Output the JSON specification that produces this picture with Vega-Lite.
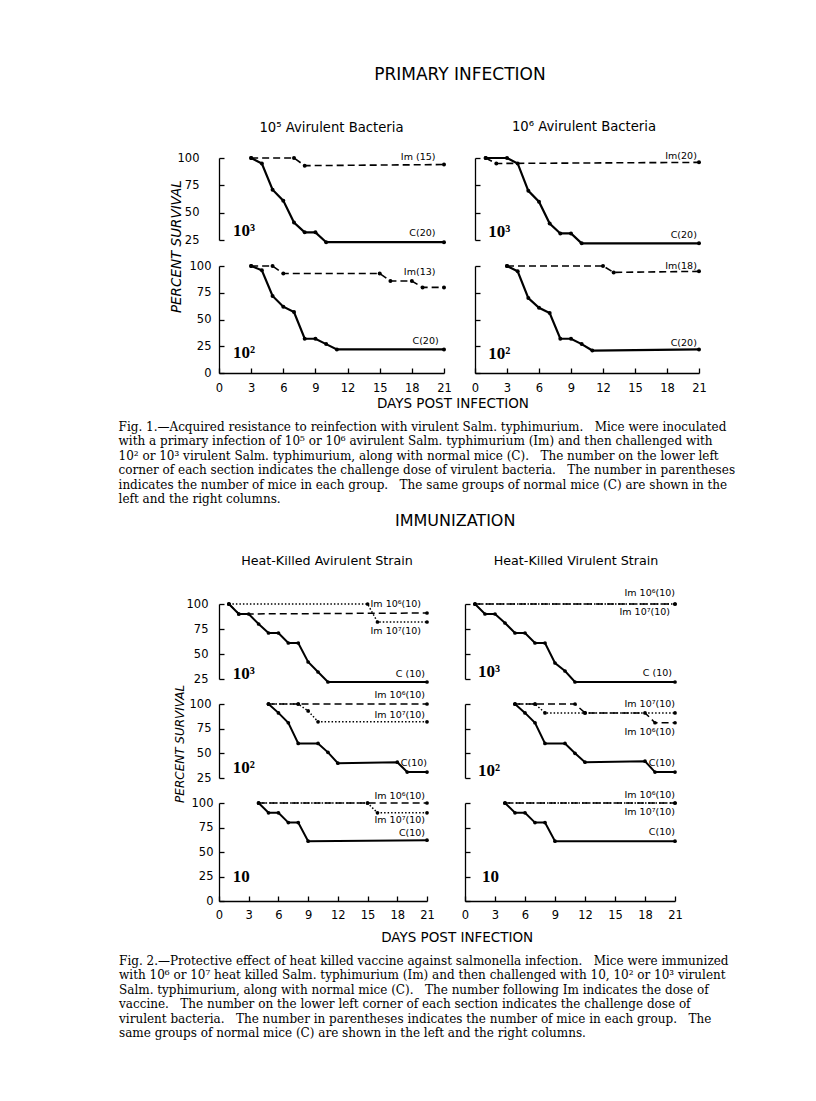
{
"$schema":"https://vega.github.io/schema/vega-lite/v6.json",
"background":"white",
"padding":{"left":118,"top":65,"right":5,"bottom":5},
"config":{
 "view":{"stroke":null},
 "axis":{"domainColor":"black","tickColor":"black","labelColor":"black","labelFont":"DejaVu Sans","labelFontSize":11.5,"grid":false,"domainWidth":1.3,"tickWidth":1.3,"labelOverlap":false,"labelFlush":false,"labelBound":false},
 "title":{"color":"black","font":"DejaVu Sans","fontWeight":"normal"}
},
"datasets":{
 "surv":[
  {"panel":"1L3","series":"Im","day":3,"pct":100},{"panel":"1L3","series":"Im","day":7,"pct":100},{"panel":"1L3","series":"Im","day":8,"pct":93},{"panel":"1L3","series":"Im","day":21,"pct":94},
  {"panel":"1L3","series":"C","day":3,"pct":100},{"panel":"1L3","series":"C","day":4,"pct":95},{"panel":"1L3","series":"C","day":5,"pct":71},{"panel":"1L3","series":"C","day":6,"pct":61},{"panel":"1L3","series":"C","day":7,"pct":41},{"panel":"1L3","series":"C","day":8,"pct":32},{"panel":"1L3","series":"C","day":9,"pct":32},{"panel":"1L3","series":"C","day":10,"pct":23},{"panel":"1L3","series":"C","day":21,"pct":23},
  {"panel":"1L2","series":"Im","day":3,"pct":100},{"panel":"1L2","series":"Im","day":5,"pct":100},{"panel":"1L2","series":"Im","day":6,"pct":93},{"panel":"1L2","series":"Im","day":15,"pct":93},{"panel":"1L2","series":"Im","day":16,"pct":86},{"panel":"1L2","series":"Im","day":18,"pct":86},{"panel":"1L2","series":"Im","day":19,"pct":80},{"panel":"1L2","series":"Im","day":21,"pct":80},
  {"panel":"1L2","series":"C","day":3,"pct":100},{"panel":"1L2","series":"C","day":4,"pct":96},{"panel":"1L2","series":"C","day":5,"pct":72},{"panel":"1L2","series":"C","day":6,"pct":62},{"panel":"1L2","series":"C","day":7,"pct":57},{"panel":"1L2","series":"C","day":8,"pct":32},{"panel":"1L2","series":"C","day":9,"pct":32},{"panel":"1L2","series":"C","day":10,"pct":27},{"panel":"1L2","series":"C","day":11,"pct":22},{"panel":"1L2","series":"C","day":21,"pct":22},
  {"panel":"1R3","series":"Im","day":1,"pct":100},{"panel":"1R3","series":"Im","day":2,"pct":95},{"panel":"1R3","series":"Im","day":21,"pct":96},
  {"panel":"1R3","series":"C","day":1,"pct":100},{"panel":"1R3","series":"C","day":3,"pct":100},{"panel":"1R3","series":"C","day":4,"pct":95},{"panel":"1R3","series":"C","day":5,"pct":70},{"panel":"1R3","series":"C","day":6,"pct":60},{"panel":"1R3","series":"C","day":7,"pct":40},{"panel":"1R3","series":"C","day":8,"pct":31},{"panel":"1R3","series":"C","day":9,"pct":31},{"panel":"1R3","series":"C","day":10,"pct":22},{"panel":"1R3","series":"C","day":21,"pct":22},
  {"panel":"1R2","series":"Im","day":3,"pct":100},{"panel":"1R2","series":"Im","day":12,"pct":100},{"panel":"1R2","series":"Im","day":13,"pct":94},{"panel":"1R2","series":"Im","day":21,"pct":95},
  {"panel":"1R2","series":"C","day":3,"pct":100},{"panel":"1R2","series":"C","day":4,"pct":95},{"panel":"1R2","series":"C","day":5,"pct":70},{"panel":"1R2","series":"C","day":6,"pct":61},{"panel":"1R2","series":"C","day":7,"pct":56},{"panel":"1R2","series":"C","day":8,"pct":32},{"panel":"1R2","series":"C","day":9,"pct":32},{"panel":"1R2","series":"C","day":10,"pct":27},{"panel":"1R2","series":"C","day":11,"pct":21},{"panel":"1R2","series":"C","day":21,"pct":22},
  {"panel":"2L3","series":"C","day":1,"pct":100},{"panel":"2L3","series":"C","day":2,"pct":90},{"panel":"2L3","series":"C","day":3,"pct":90},{"panel":"2L3","series":"C","day":4,"pct":80},{"panel":"2L3","series":"C","day":5,"pct":71},{"panel":"2L3","series":"C","day":6,"pct":71},{"panel":"2L3","series":"C","day":7,"pct":61},{"panel":"2L3","series":"C","day":8,"pct":61},{"panel":"2L3","series":"C","day":9,"pct":42},{"panel":"2L3","series":"C","day":10,"pct":32},{"panel":"2L3","series":"C","day":11,"pct":22},{"panel":"2L3","series":"C","day":21,"pct":22},
  {"panel":"2L3","series":"Im6","day":1,"pct":100},{"panel":"2L3","series":"Im6","day":2,"pct":90},{"panel":"2L3","series":"Im6","day":21,"pct":91},
  {"panel":"2L3","series":"Im7","day":1,"pct":100},{"panel":"2L3","series":"Im7","day":15,"pct":100},{"panel":"2L3","series":"Im7","day":16,"pct":82},{"panel":"2L3","series":"Im7","day":21,"pct":82},
  {"panel":"2L2","series":"C","day":5,"pct":100},{"panel":"2L2","series":"C","day":6,"pct":91},{"panel":"2L2","series":"C","day":7,"pct":81},{"panel":"2L2","series":"C","day":8,"pct":60},{"panel":"2L2","series":"C","day":10,"pct":60},{"panel":"2L2","series":"C","day":11,"pct":51},{"panel":"2L2","series":"C","day":12,"pct":40},{"panel":"2L2","series":"C","day":18,"pct":41},{"panel":"2L2","series":"C","day":19,"pct":31},{"panel":"2L2","series":"C","day":21,"pct":31},
  {"panel":"2L2","series":"Im6","day":5,"pct":100},{"panel":"2L2","series":"Im6","day":8,"pct":100},{"panel":"2L2","series":"Im6","day":21,"pct":100},
  {"panel":"2L2","series":"Im7","day":5,"pct":100},{"panel":"2L2","series":"Im7","day":8,"pct":100},{"panel":"2L2","series":"Im7","day":9,"pct":93},{"panel":"2L2","series":"Im7","day":10,"pct":82},{"panel":"2L2","series":"Im7","day":21,"pct":82},
  {"panel":"2L1","series":"C","day":4,"pct":100},{"panel":"2L1","series":"C","day":5,"pct":90},{"panel":"2L1","series":"C","day":6,"pct":90},{"panel":"2L1","series":"C","day":7,"pct":80},{"panel":"2L1","series":"C","day":8,"pct":80},{"panel":"2L1","series":"C","day":9,"pct":61},{"panel":"2L1","series":"C","day":21,"pct":62},
  {"panel":"2L1","series":"Im6","day":4,"pct":100},{"panel":"2L1","series":"Im6","day":15,"pct":100},{"panel":"2L1","series":"Im6","day":21,"pct":100},
  {"panel":"2L1","series":"Im7","day":4,"pct":100},{"panel":"2L1","series":"Im7","day":15,"pct":100},{"panel":"2L1","series":"Im7","day":16,"pct":90},{"panel":"2L1","series":"Im7","day":21,"pct":90},
  {"panel":"2R3","series":"C","day":1,"pct":100},{"panel":"2R3","series":"C","day":2,"pct":90},{"panel":"2R3","series":"C","day":3,"pct":90},{"panel":"2R3","series":"C","day":4,"pct":81},{"panel":"2R3","series":"C","day":5,"pct":71},{"panel":"2R3","series":"C","day":6,"pct":71},{"panel":"2R3","series":"C","day":7,"pct":61},{"panel":"2R3","series":"C","day":8,"pct":61},{"panel":"2R3","series":"C","day":9,"pct":41},{"panel":"2R3","series":"C","day":10,"pct":33},{"panel":"2R3","series":"C","day":11,"pct":22},{"panel":"2R3","series":"C","day":21,"pct":22},
  {"panel":"2R3","series":"Im6","day":1,"pct":100},{"panel":"2R3","series":"Im6","day":21,"pct":100},
  {"panel":"2R3","series":"Im7","day":1,"pct":100},{"panel":"2R3","series":"Im7","day":21,"pct":100},
  {"panel":"2R2","series":"C","day":5,"pct":100},{"panel":"2R2","series":"C","day":6,"pct":91},{"panel":"2R2","series":"C","day":7,"pct":81},{"panel":"2R2","series":"C","day":8,"pct":60},{"panel":"2R2","series":"C","day":10,"pct":60},{"panel":"2R2","series":"C","day":11,"pct":50},{"panel":"2R2","series":"C","day":12,"pct":41},{"panel":"2R2","series":"C","day":18,"pct":42},{"panel":"2R2","series":"C","day":19,"pct":31},{"panel":"2R2","series":"C","day":21,"pct":31},
  {"panel":"2R2","series":"Im6","day":5,"pct":100},{"panel":"2R2","series":"Im6","day":7,"pct":100},{"panel":"2R2","series":"Im6","day":11,"pct":100},{"panel":"2R2","series":"Im6","day":12,"pct":91},{"panel":"2R2","series":"Im6","day":18,"pct":91},{"panel":"2R2","series":"Im6","day":19,"pct":81},{"panel":"2R2","series":"Im6","day":21,"pct":81},
  {"panel":"2R2","series":"Im7","day":5,"pct":100},{"panel":"2R2","series":"Im7","day":7,"pct":100},{"panel":"2R2","series":"Im7","day":8,"pct":91},{"panel":"2R2","series":"Im7","day":12,"pct":91},{"panel":"2R2","series":"Im7","day":21,"pct":91},
  {"panel":"2R1","series":"C","day":4,"pct":100},{"panel":"2R1","series":"C","day":5,"pct":90},{"panel":"2R1","series":"C","day":6,"pct":90},{"panel":"2R1","series":"C","day":7,"pct":80},{"panel":"2R1","series":"C","day":8,"pct":80},{"panel":"2R1","series":"C","day":9,"pct":61},{"panel":"2R1","series":"C","day":21,"pct":61},
  {"panel":"2R1","series":"Im6","day":4,"pct":100},{"panel":"2R1","series":"Im6","day":21,"pct":100},
  {"panel":"2R1","series":"Im7","day":4,"pct":100},{"panel":"2R1","series":"Im7","day":21,"pct":100}
 ],
 "labels":[
  {"panel":"1L3","label":"Im (15)","day":20.2,"pct":98},{"panel":"1L3","label":"C(20)","day":20.2,"pct":28.6},
  {"panel":"1L2","label":"Im(13)","day":20.2,"pct":92},{"panel":"1L2","label":"C(20)","day":20.5,"pct":27},
  {"panel":"1R3","label":"Im(20)","day":20.8,"pct":99},{"panel":"1R3","label":"C(20)","day":20.8,"pct":27},
  {"panel":"1R2","label":"Im(18)","day":20.8,"pct":97.5},{"panel":"1R2","label":"C(20)","day":20.8,"pct":25},
  {"panel":"2L3","label":"Im 10⁶(10)","day":20.4,"pct":96.6},{"panel":"2L3","label":"Im 10⁷(10)","day":20.4,"pct":70},{"panel":"2L3","label":"C (10)","day":20.8,"pct":27},
  {"panel":"2L2","label":"Im 10⁶(10)","day":20.8,"pct":106.5},{"panel":"2L2","label":"Im 10⁷(10)","day":20.8,"pct":86},{"panel":"2L2","label":"C(10)","day":21,"pct":37},
  {"panel":"2L1","label":"Im 10⁶(10)","day":20.8,"pct":104.5},{"panel":"2L1","label":"Im 10⁷(10)","day":20.8,"pct":80},{"panel":"2L1","label":"C(10)","day":20.8,"pct":66},
  {"panel":"2R3","label":"Im 10⁶(10)","day":21,"pct":108},{"panel":"2R3","label":"Im 10⁷(10)","day":20.5,"pct":89},{"panel":"2R3","label":"C (10)","day":20.7,"pct":28},
  {"panel":"2R2","label":"Im 10⁷(10)","day":21,"pct":96.7},{"panel":"2R2","label":"Im 10⁶(10)","day":21,"pct":69},{"panel":"2R2","label":"C(10)","day":21,"pct":36.7},
  {"panel":"2R1","label":"Im 10⁶(10)","day":21,"pct":105},{"panel":"2R1","label":"Im 10⁷(10)","day":21,"pct":88},{"panel":"2R1","label":"C(10)","day":21,"pct":67}
 ],
 "doses":[
  {"panel":"1L3","dose":"10³","day":1.3,"pct":28.6},{"panel":"1L2","dose":"10²","day":1.3,"pct":14},
  {"panel":"1R3","dose":"10³","day":1.25,"pct":27.8},{"panel":"1R2","dose":"10²","day":1.25,"pct":13},
  {"panel":"2L3","dose":"10³","day":1.4,"pct":25},{"panel":"2L2","dose":"10²","day":1.4,"pct":29.6},{"panel":"2L1","dose":"10","day":1.4,"pct":19.4},
  {"panel":"2R3","dose":"10³","day":1.3,"pct":27.4},{"panel":"2R2","dose":"10²","day":1.3,"pct":27.4},{"panel":"2R1","dose":"10","day":1.7,"pct":19}
 ]
},
"columns":1,
"spacing":8,
"align":"none",
"concat":[
{
 "title":{"text":["Fig. 1.—Acquired resistance to reinfection with virulent Salm. typhimurium.\u00a0\u00a0 Mice were inoculated","with a primary infection of 10⁵ or 10⁶ avirulent Salm. typhimurium (Im) and then challenged with","10² or 10³ virulent Salm. typhimurium, along with normal mice (C).\u00a0\u00a0 The number on the lower left","corner of each section indicates the challenge dose of virulent bacteria.\u00a0\u00a0 The number in parentheses","indicates the number of mice in each group.\u00a0\u00a0 The same groups of normal mice (C) are shown in the","left and the right columns."],"orient":"bottom","anchor":"start","font":"DejaVu Serif","fontSize":12,"lineHeight":14.4,"offset":12,"dx":-51},
 "vconcat":[{
  "title":{"text":"DAYS POST INFECTION","orient":"bottom","anchor":"middle","fontSize":13.5,"offset":3,"dx":15},
  "vconcat":[{
   "title":{"text":"PRIMARY INFECTION","anchor":"middle","fontSize":17,"offset":36,"dx":22},
   "vconcat":[{
    "title":{"text":"PERCENT SURVIVAL","orient":"left","anchor":"middle","fontSize":13.5,"fontStyle":"italic","offset":-6,"dx":10},
    "columns":2,"bounds":"flush","spacing":{"row":26,"column":31},
    "concat":[
     {"width":225,"height":82,
      "title":{"text":"10⁵ Avirulent Bacteria","anchor":"middle","frame":"group","fontSize":13.2,"offset":7,"baseline":"alphabetic"},
      "layer":[
       {"data":{"name":"surv"},"transform":[{"filter":"datum.panel=='1L3' && datum.series=='C'"}],"mark":{"type":"line","color":"black","strokeWidth":2.2},
        "encoding":{"x":{"field":"day","type":"quantitative","scale":{"domain":[0,21],"nice":false,"zero":false},"axis":null},
                    "y":{"field":"pct","type":"quantitative","scale":{"domain":[25,100],"nice":false,"zero":false},"axis":{"values":[25,50,75,100],"tickCount":20,"tickSize":-5,"labelPadding":25,"title":null}}}},
       {"data":{"name":"surv"},"transform":[{"filter":"datum.panel=='1L3' && datum.series!='C'"}],"mark":{"type":"line","color":"black","strokeWidth":1.6},
        "encoding":{"x":{"field":"day","type":"quantitative"},"y":{"field":"pct","type":"quantitative"},"strokeDash":{"field":"series","type":"nominal","scale":{"domain":["Im","Im6","Im7"],"range":[[7,4],[7,4],[1.5,2]]},"legend":null}}},
       {"data":{"name":"surv"},"transform":[{"filter":"datum.panel=='1L3'"}],"mark":{"type":"circle","size":16,"color":"black","opacity":1},
        "encoding":{"x":{"field":"day","type":"quantitative"},"y":{"field":"pct","type":"quantitative"}}},
       {"data":{"name":"labels"},"transform":[{"filter":"datum.panel=='1L3'"}],"mark":{"type":"text","align":"right","baseline":"alphabetic","font":"DejaVu Sans","fontSize":9.5,"color":"black"},
        "encoding":{"x":{"field":"day","type":"quantitative"},"y":{"field":"pct","type":"quantitative"},"text":{"field":"label"}}},
       {"data":{"name":"doses"},"transform":[{"filter":"datum.panel=='1L3'"}],"mark":{"type":"text","align":"left","baseline":"alphabetic","font":"Liberation Serif","fontWeight":"bold","fontSize":17,"color":"black"},
        "encoding":{"x":{"field":"day","type":"quantitative"},"y":{"field":"pct","type":"quantitative"},"text":{"field":"dose"}}}
      ]},
     {"width":224,"height":82,
      "title":{"text":"10⁶ Avirulent Bacteria","anchor":"middle","frame":"group","fontSize":13.2,"offset":7,"baseline":"alphabetic","dx":-3},
      "layer":[
       {"data":{"name":"surv"},"transform":[{"filter":"datum.panel=='1R3' && datum.series=='C'"}],"mark":{"type":"line","color":"black","strokeWidth":2.2},
        "encoding":{"x":{"field":"day","type":"quantitative","scale":{"domain":[0,21],"nice":false,"zero":false},"axis":null},
                    "y":{"field":"pct","type":"quantitative","scale":{"domain":[25,100],"nice":false,"zero":false},"axis":{"values":[25,50,75,100],"tickCount":20,"tickSize":-5,"labels":false,"title":null}}}},
       {"data":{"name":"surv"},"transform":[{"filter":"datum.panel=='1R3' && datum.series!='C'"}],"mark":{"type":"line","color":"black","strokeWidth":1.6},
        "encoding":{"x":{"field":"day","type":"quantitative"},"y":{"field":"pct","type":"quantitative"},"strokeDash":{"field":"series","type":"nominal","scale":{"domain":["Im","Im6","Im7"],"range":[[7,4],[7,4],[1.5,2]]},"legend":null}}},
       {"data":{"name":"surv"},"transform":[{"filter":"datum.panel=='1R3'"}],"mark":{"type":"circle","size":16,"color":"black","opacity":1},
        "encoding":{"x":{"field":"day","type":"quantitative"},"y":{"field":"pct","type":"quantitative"}}},
       {"data":{"name":"labels"},"transform":[{"filter":"datum.panel=='1R3'"}],"mark":{"type":"text","align":"right","baseline":"alphabetic","font":"DejaVu Sans","fontSize":9.5,"color":"black"},
        "encoding":{"x":{"field":"day","type":"quantitative"},"y":{"field":"pct","type":"quantitative"},"text":{"field":"label"}}},
       {"data":{"name":"doses"},"transform":[{"filter":"datum.panel=='1R3'"}],"mark":{"type":"text","align":"left","baseline":"alphabetic","font":"Liberation Serif","fontWeight":"bold","fontSize":17,"color":"black"},
        "encoding":{"x":{"field":"day","type":"quantitative"},"y":{"field":"pct","type":"quantitative"},"text":{"field":"dose"}}}
      ]},
     {"width":225,"height":107,
      "layer":[
       {"data":{"name":"surv"},"transform":[{"filter":"datum.panel=='1L2' && datum.series=='C'"}],"mark":{"type":"line","color":"black","strokeWidth":2.2},
        "encoding":{"x":{"field":"day","type":"quantitative","scale":{"domain":[0,21],"nice":false,"zero":false},"axis":{"values":[0,3,6,9,12,15,18,21],"tickCount":20,"tickSize":-5,"labelPadding":14,"title":null}},
                    "y":{"field":"pct","type":"quantitative","scale":{"domain":[0,100],"nice":false,"zero":false},"axis":{"values":[0,25,50,75,100],"tickCount":20,"tickSize":-5,"labelPadding":13,"title":null}}}},
       {"data":{"name":"surv"},"transform":[{"filter":"datum.panel=='1L2' && datum.series!='C'"}],"mark":{"type":"line","color":"black","strokeWidth":1.6},
        "encoding":{"x":{"field":"day","type":"quantitative"},"y":{"field":"pct","type":"quantitative"},"strokeDash":{"field":"series","type":"nominal","scale":{"domain":["Im","Im6","Im7"],"range":[[7,4],[7,4],[1.5,2]]},"legend":null}}},
       {"data":{"name":"surv"},"transform":[{"filter":"datum.panel=='1L2'"}],"mark":{"type":"circle","size":16,"color":"black","opacity":1},
        "encoding":{"x":{"field":"day","type":"quantitative"},"y":{"field":"pct","type":"quantitative"}}},
       {"data":{"name":"labels"},"transform":[{"filter":"datum.panel=='1L2'"}],"mark":{"type":"text","align":"right","baseline":"alphabetic","font":"DejaVu Sans","fontSize":9.5,"color":"black"},
        "encoding":{"x":{"field":"day","type":"quantitative"},"y":{"field":"pct","type":"quantitative"},"text":{"field":"label"}}},
       {"data":{"name":"doses"},"transform":[{"filter":"datum.panel=='1L2'"}],"mark":{"type":"text","align":"left","baseline":"alphabetic","font":"Liberation Serif","fontWeight":"bold","fontSize":17,"color":"black"},
        "encoding":{"x":{"field":"day","type":"quantitative"},"y":{"field":"pct","type":"quantitative"},"text":{"field":"dose"}}}
      ]},
     {"width":224,"height":107,
      "layer":[
       {"data":{"name":"surv"},"transform":[{"filter":"datum.panel=='1R2' && datum.series=='C'"}],"mark":{"type":"line","color":"black","strokeWidth":2.2},
        "encoding":{"x":{"field":"day","type":"quantitative","scale":{"domain":[0,21],"nice":false,"zero":false},"axis":{"values":[0,3,6,9,12,15,18,21],"tickCount":20,"tickSize":-5,"labelPadding":14,"title":null}},
                    "y":{"field":"pct","type":"quantitative","scale":{"domain":[0,100],"nice":false,"zero":false},"axis":{"values":[0,25,50,75,100],"tickCount":20,"tickSize":-5,"labels":false,"title":null}}}},
       {"data":{"name":"surv"},"transform":[{"filter":"datum.panel=='1R2' && datum.series!='C'"}],"mark":{"type":"line","color":"black","strokeWidth":1.6},
        "encoding":{"x":{"field":"day","type":"quantitative"},"y":{"field":"pct","type":"quantitative"},"strokeDash":{"field":"series","type":"nominal","scale":{"domain":["Im","Im6","Im7"],"range":[[7,4],[7,4],[1.5,2]]},"legend":null}}},
       {"data":{"name":"surv"},"transform":[{"filter":"datum.panel=='1R2'"}],"mark":{"type":"circle","size":16,"color":"black","opacity":1},
        "encoding":{"x":{"field":"day","type":"quantitative"},"y":{"field":"pct","type":"quantitative"}}},
       {"data":{"name":"labels"},"transform":[{"filter":"datum.panel=='1R2'"}],"mark":{"type":"text","align":"right","baseline":"alphabetic","font":"DejaVu Sans","fontSize":9.5,"color":"black"},
        "encoding":{"x":{"field":"day","type":"quantitative"},"y":{"field":"pct","type":"quantitative"},"text":{"field":"label"}}},
       {"data":{"name":"doses"},"transform":[{"filter":"datum.panel=='1R2'"}],"mark":{"type":"text","align":"left","baseline":"alphabetic","font":"Liberation Serif","fontWeight":"bold","fontSize":17,"color":"black"},
        "encoding":{"x":{"field":"day","type":"quantitative"},"y":{"field":"pct","type":"quantitative"},"text":{"field":"dose"}}}
      ]}
    ]
   }]
  }]
 }]
},
{
 "title":{"text":["Fig. 2.—Protective effect of heat killed vaccine against salmonella infection.\u00a0\u00a0 Mice were immunized","with 10⁶ or 10⁷ heat killed Salm. typhimurium (Im) and then challenged with 10, 10² or 10³ virulent","Salm. typhimurium, along with normal mice (C).\u00a0\u00a0 The number following Im indicates the dose of","vaccine.\u00a0\u00a0 The number on the lower left corner of each section indicates the challenge dose of","virulent bacteria.\u00a0\u00a0 The number in parentheses indicates the number of mice in each group.\u00a0\u00a0 The","same groups of normal mice (C) are shown in the left and the right columns."],"orient":"bottom","anchor":"start","font":"DejaVu Serif","fontSize":12,"lineHeight":14.4,"offset":12,"dx":-55},
 "vconcat":[{
  "title":{"text":"DAYS POST INFECTION","orient":"bottom","anchor":"middle","fontSize":13.5,"offset":10,"dx":29},
  "vconcat":[{
   "title":{"text":"IMMUNIZATION","anchor":"middle","fontSize":16,"offset":26,"dx":27},
   "vconcat":[{
    "title":{"text":"PERCENT SURVIVAL","orient":"left","anchor":"middle","fontSize":12,"fontStyle":"italic","offset":-1,"dx":-6},
    "columns":2,"bounds":"flush","spacing":{"row":25,"column":38},
    "concat":[
     {"width":208,"height":75,
      "title":{"text":"Heat-Killed Avirulent Strain","anchor":"middle","frame":"group","fontSize":12.7,"offset":20,"baseline":"alphabetic","dx":4},
      "layer":[
       {"data":{"name":"surv"},"transform":[{"filter":"datum.panel=='2L3' && datum.series=='C'"}],"mark":{"type":"line","color":"black","strokeWidth":2},
        "encoding":{"x":{"field":"day","type":"quantitative","scale":{"domain":[0,21],"nice":false,"zero":false},"axis":null},
                    "y":{"field":"pct","type":"quantitative","scale":{"domain":[25,100],"nice":false,"zero":false},"axis":{"values":[25,50,75,100],"tickCount":20,"tickSize":-5,"labelPadding":16,"title":null}}}},
       {"data":{"name":"surv"},"transform":[{"filter":"datum.panel=='2L3' && datum.series!='C'"}],"mark":{"type":"line","color":"black","strokeWidth":1.5},
        "encoding":{"x":{"field":"day","type":"quantitative"},"y":{"field":"pct","type":"quantitative"},"strokeDash":{"field":"series","type":"nominal","scale":{"domain":["Im","Im6","Im7"],"range":[[7,4],[7,4],[1.5,2]]},"legend":null}}},
       {"data":{"name":"surv"},"transform":[{"filter":"datum.panel=='2L3'"}],"mark":{"type":"circle","size":14,"color":"black","opacity":1},
        "encoding":{"x":{"field":"day","type":"quantitative"},"y":{"field":"pct","type":"quantitative"}}},
       {"data":{"name":"labels"},"transform":[{"filter":"datum.panel=='2L3'"}],"mark":{"type":"text","align":"right","baseline":"alphabetic","font":"DejaVu Sans","fontSize":9.5,"color":"black"},
        "encoding":{"x":{"field":"day","type":"quantitative"},"y":{"field":"pct","type":"quantitative"},"text":{"field":"label"}}},
       {"data":{"name":"doses"},"transform":[{"filter":"datum.panel=='2L3'"}],"mark":{"type":"text","align":"left","baseline":"alphabetic","font":"Liberation Serif","fontWeight":"bold","fontSize":17,"color":"black"},
        "encoding":{"x":{"field":"day","type":"quantitative"},"y":{"field":"pct","type":"quantitative"},"text":{"field":"dose"}}}
      ]},
     {"width":210,"height":75,
      "title":{"text":"Heat-Killed Virulent Strain","anchor":"middle","frame":"group","fontSize":12.7,"offset":10,"baseline":"alphabetic","dx":6},
      "layer":[
       {"data":{"name":"surv"},"transform":[{"filter":"datum.panel=='2R3' && datum.series=='C'"}],"mark":{"type":"line","color":"black","strokeWidth":2},
        "encoding":{"x":{"field":"day","type":"quantitative","scale":{"domain":[0,21],"nice":false,"zero":false},"axis":null},
                    "y":{"field":"pct","type":"quantitative","scale":{"domain":[25,100],"nice":false,"zero":false},"axis":{"values":[25,50,75,100],"tickCount":20,"tickSize":-5,"labels":false,"title":null}}}},
       {"data":{"name":"surv"},"transform":[{"filter":"datum.panel=='2R3' && datum.series!='C'"}],"mark":{"type":"line","color":"black","strokeWidth":1.5},
        "encoding":{"x":{"field":"day","type":"quantitative"},"y":{"field":"pct","type":"quantitative"},"strokeDash":{"field":"series","type":"nominal","scale":{"domain":["Im","Im6","Im7"],"range":[[7,4],[7,4],[1.5,2]]},"legend":null}}},
       {"data":{"name":"surv"},"transform":[{"filter":"datum.panel=='2R3'"}],"mark":{"type":"circle","size":14,"color":"black","opacity":1},
        "encoding":{"x":{"field":"day","type":"quantitative"},"y":{"field":"pct","type":"quantitative"}}},
       {"data":{"name":"labels"},"transform":[{"filter":"datum.panel=='2R3'"}],"mark":{"type":"text","align":"right","baseline":"alphabetic","font":"DejaVu Sans","fontSize":9.5,"color":"black"},
        "encoding":{"x":{"field":"day","type":"quantitative"},"y":{"field":"pct","type":"quantitative"},"text":{"field":"label"}}},
       {"data":{"name":"doses"},"transform":[{"filter":"datum.panel=='2R3'"}],"mark":{"type":"text","align":"left","baseline":"alphabetic","font":"Liberation Serif","fontWeight":"bold","fontSize":17,"color":"black"},
        "encoding":{"x":{"field":"day","type":"quantitative"},"y":{"field":"pct","type":"quantitative"},"text":{"field":"dose"}}}
      ]},
     {"width":208,"height":74,
      "layer":[
       {"data":{"name":"surv"},"transform":[{"filter":"datum.panel=='2L2' && datum.series=='C'"}],"mark":{"type":"line","color":"black","strokeWidth":2},
        "encoding":{"x":{"field":"day","type":"quantitative","scale":{"domain":[0,21],"nice":false,"zero":false},"axis":null},
                    "y":{"field":"pct","type":"quantitative","scale":{"domain":[25,100],"nice":false,"zero":false},"axis":{"values":[25,50,75,100],"tickCount":20,"tickSize":-5,"labelPadding":13,"title":null}}}},
       {"data":{"name":"surv"},"transform":[{"filter":"datum.panel=='2L2' && datum.series!='C'"}],"mark":{"type":"line","color":"black","strokeWidth":1.5},
        "encoding":{"x":{"field":"day","type":"quantitative"},"y":{"field":"pct","type":"quantitative"},"strokeDash":{"field":"series","type":"nominal","scale":{"domain":["Im","Im6","Im7"],"range":[[7,4],[7,4],[1.5,2]]},"legend":null}}},
       {"data":{"name":"surv"},"transform":[{"filter":"datum.panel=='2L2'"}],"mark":{"type":"circle","size":14,"color":"black","opacity":1},
        "encoding":{"x":{"field":"day","type":"quantitative"},"y":{"field":"pct","type":"quantitative"}}},
       {"data":{"name":"labels"},"transform":[{"filter":"datum.panel=='2L2'"}],"mark":{"type":"text","align":"right","baseline":"alphabetic","font":"DejaVu Sans","fontSize":9.5,"color":"black"},
        "encoding":{"x":{"field":"day","type":"quantitative"},"y":{"field":"pct","type":"quantitative"},"text":{"field":"label"}}},
       {"data":{"name":"doses"},"transform":[{"filter":"datum.panel=='2L2'"}],"mark":{"type":"text","align":"left","baseline":"alphabetic","font":"Liberation Serif","fontWeight":"bold","fontSize":17,"color":"black"},
        "encoding":{"x":{"field":"day","type":"quantitative"},"y":{"field":"pct","type":"quantitative"},"text":{"field":"dose"}}}
      ]},
     {"width":210,"height":74,
      "layer":[
       {"data":{"name":"surv"},"transform":[{"filter":"datum.panel=='2R2' && datum.series=='C'"}],"mark":{"type":"line","color":"black","strokeWidth":2},
        "encoding":{"x":{"field":"day","type":"quantitative","scale":{"domain":[0,21],"nice":false,"zero":false},"axis":null},
                    "y":{"field":"pct","type":"quantitative","scale":{"domain":[25,100],"nice":false,"zero":false},"axis":{"values":[25,50,75,100],"tickCount":20,"tickSize":-5,"labels":false,"title":null}}}},
       {"data":{"name":"surv"},"transform":[{"filter":"datum.panel=='2R2' && datum.series!='C'"}],"mark":{"type":"line","color":"black","strokeWidth":1.5},
        "encoding":{"x":{"field":"day","type":"quantitative"},"y":{"field":"pct","type":"quantitative"},"strokeDash":{"field":"series","type":"nominal","scale":{"domain":["Im","Im6","Im7"],"range":[[7,4],[7,4],[1.5,2]]},"legend":null}}},
       {"data":{"name":"surv"},"transform":[{"filter":"datum.panel=='2R2'"}],"mark":{"type":"circle","size":14,"color":"black","opacity":1},
        "encoding":{"x":{"field":"day","type":"quantitative"},"y":{"field":"pct","type":"quantitative"}}},
       {"data":{"name":"labels"},"transform":[{"filter":"datum.panel=='2R2'"}],"mark":{"type":"text","align":"right","baseline":"alphabetic","font":"DejaVu Sans","fontSize":9.5,"color":"black"},
        "encoding":{"x":{"field":"day","type":"quantitative"},"y":{"field":"pct","type":"quantitative"},"text":{"field":"label"}}},
       {"data":{"name":"doses"},"transform":[{"filter":"datum.panel=='2R2'"}],"mark":{"type":"text","align":"left","baseline":"alphabetic","font":"Liberation Serif","fontWeight":"bold","fontSize":17,"color":"black"},
        "encoding":{"x":{"field":"day","type":"quantitative"},"y":{"field":"pct","type":"quantitative"},"text":{"field":"dose"}}}
      ]},
     {"width":208,"height":98,
      "layer":[
       {"data":{"name":"surv"},"transform":[{"filter":"datum.panel=='2L1' && datum.series=='C'"}],"mark":{"type":"line","color":"black","strokeWidth":2},
        "encoding":{"x":{"field":"day","type":"quantitative","scale":{"domain":[0,21],"nice":false,"zero":false},"axis":{"values":[0,3,6,9,12,15,18,21],"tickCount":20,"tickSize":-5,"labelPadding":13,"title":null}},
                    "y":{"field":"pct","type":"quantitative","scale":{"domain":[0,100],"nice":false,"zero":false},"axis":{"values":[0,25,50,75,100],"tickCount":20,"tickSize":-5,"labelPadding":11,"title":null}}}},
       {"data":{"name":"surv"},"transform":[{"filter":"datum.panel=='2L1' && datum.series!='C'"}],"mark":{"type":"line","color":"black","strokeWidth":1.5},
        "encoding":{"x":{"field":"day","type":"quantitative"},"y":{"field":"pct","type":"quantitative"},"strokeDash":{"field":"series","type":"nominal","scale":{"domain":["Im","Im6","Im7"],"range":[[7,4],[7,4],[1.5,2]]},"legend":null}}},
       {"data":{"name":"surv"},"transform":[{"filter":"datum.panel=='2L1'"}],"mark":{"type":"circle","size":14,"color":"black","opacity":1},
        "encoding":{"x":{"field":"day","type":"quantitative"},"y":{"field":"pct","type":"quantitative"}}},
       {"data":{"name":"labels"},"transform":[{"filter":"datum.panel=='2L1'"}],"mark":{"type":"text","align":"right","baseline":"alphabetic","font":"DejaVu Sans","fontSize":9.5,"color":"black"},
        "encoding":{"x":{"field":"day","type":"quantitative"},"y":{"field":"pct","type":"quantitative"},"text":{"field":"label"}}},
       {"data":{"name":"doses"},"transform":[{"filter":"datum.panel=='2L1'"}],"mark":{"type":"text","align":"left","baseline":"alphabetic","font":"Liberation Serif","fontWeight":"bold","fontSize":17,"color":"black"},
        "encoding":{"x":{"field":"day","type":"quantitative"},"y":{"field":"pct","type":"quantitative"},"text":{"field":"dose"}}}
      ]},
     {"width":210,"height":98,
      "layer":[
       {"data":{"name":"surv"},"transform":[{"filter":"datum.panel=='2R1' && datum.series=='C'"}],"mark":{"type":"line","color":"black","strokeWidth":2},
        "encoding":{"x":{"field":"day","type":"quantitative","scale":{"domain":[0,21],"nice":false,"zero":false},"axis":{"values":[0,3,6,9,12,15,18,21],"tickCount":20,"tickSize":-5,"labelPadding":13,"title":null}},
                    "y":{"field":"pct","type":"quantitative","scale":{"domain":[0,100],"nice":false,"zero":false},"axis":{"values":[0,25,50,75,100],"tickCount":20,"tickSize":-5,"labels":false,"title":null}}}},
       {"data":{"name":"surv"},"transform":[{"filter":"datum.panel=='2R1' && datum.series!='C'"}],"mark":{"type":"line","color":"black","strokeWidth":1.5},
        "encoding":{"x":{"field":"day","type":"quantitative"},"y":{"field":"pct","type":"quantitative"},"strokeDash":{"field":"series","type":"nominal","scale":{"domain":["Im","Im6","Im7"],"range":[[7,4],[7,4],[1.5,2]]},"legend":null}}},
       {"data":{"name":"surv"},"transform":[{"filter":"datum.panel=='2R1'"}],"mark":{"type":"circle","size":14,"color":"black","opacity":1},
        "encoding":{"x":{"field":"day","type":"quantitative"},"y":{"field":"pct","type":"quantitative"}}},
       {"data":{"name":"labels"},"transform":[{"filter":"datum.panel=='2R1'"}],"mark":{"type":"text","align":"right","baseline":"alphabetic","font":"DejaVu Sans","fontSize":9.5,"color":"black"},
        "encoding":{"x":{"field":"day","type":"quantitative"},"y":{"field":"pct","type":"quantitative"},"text":{"field":"label"}}},
       {"data":{"name":"doses"},"transform":[{"filter":"datum.panel=='2R1'"}],"mark":{"type":"text","align":"left","baseline":"alphabetic","font":"Liberation Serif","fontWeight":"bold","fontSize":17,"color":"black"},
        "encoding":{"x":{"field":"day","type":"quantitative"},"y":{"field":"pct","type":"quantitative"},"text":{"field":"dose"}}}
      ]}
    ]
   }]
  }]
 }]
}
]
}
